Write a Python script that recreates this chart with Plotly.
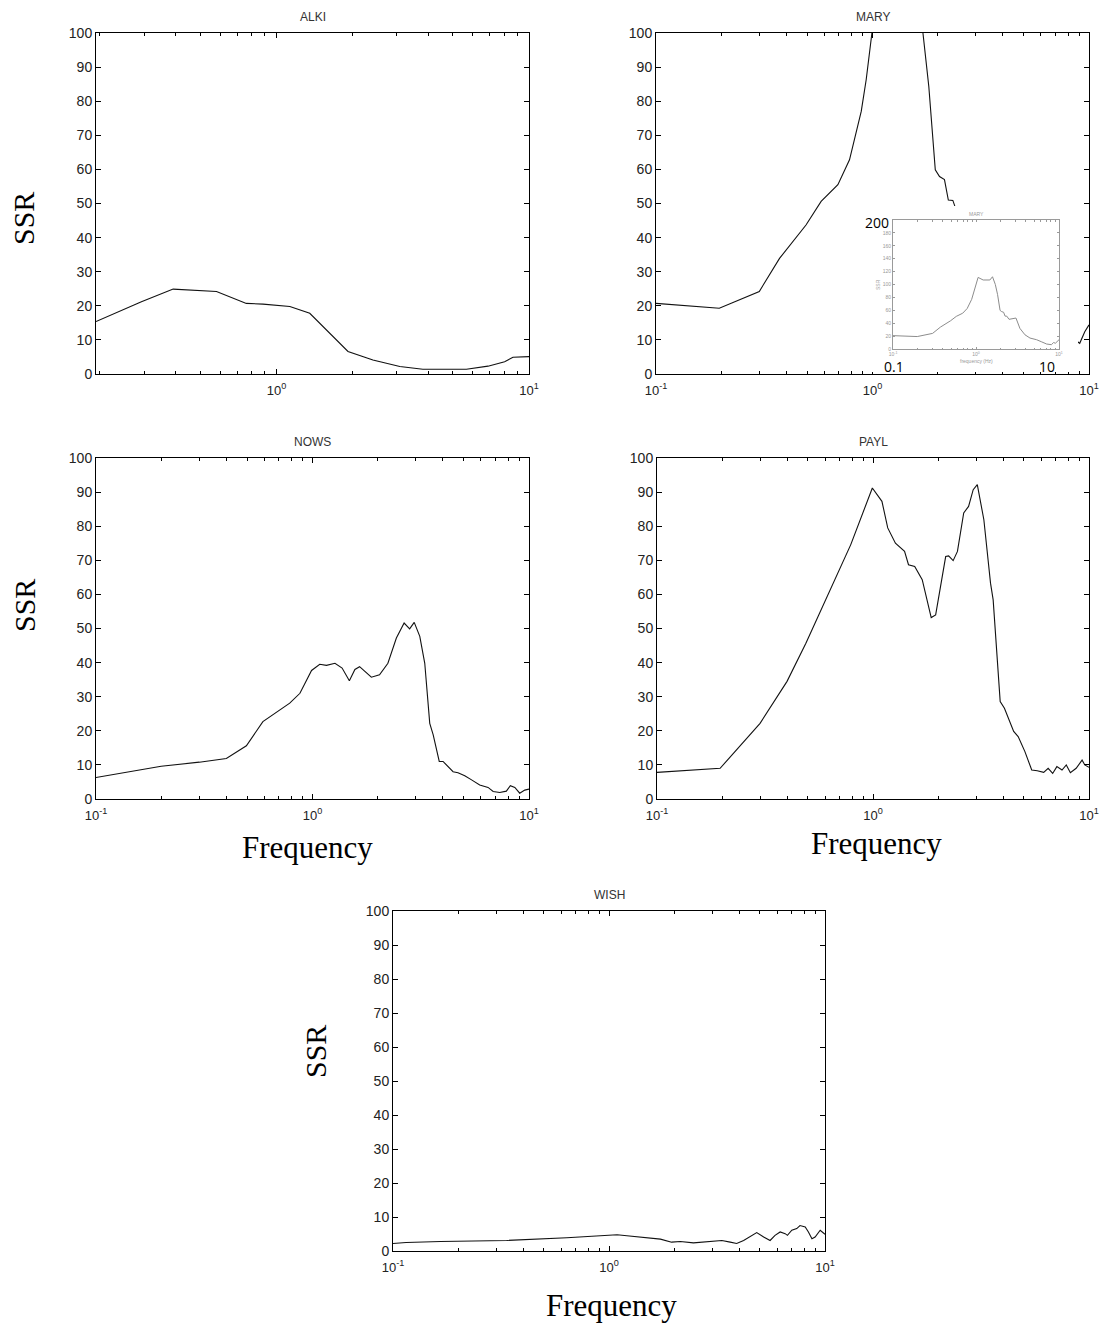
import math
import plotly.graph_objects as go

W, H = 1102, 1325

# ---------------- data ----------------
alki_f = [0.193, 0.292, 0.39, 0.579, 0.76, 0.885, 1.13, 1.355, 1.92, 2.41, 3.08, 3.80, 5.65, 6.88, 8.01, 8.64, 10.0]
alki_ssr = [15.4, 21.2, 24.9, 24.2, 20.7, 20.5, 19.8, 17.8, 6.6, 4.1, 2.2, 1.4, 1.4, 2.3, 3.6, 4.9, 5.1]

mary_f = [0.1, 0.196, 0.30, 0.372, 0.493, 0.579, 0.692, 0.783, 0.887, 0.935, 0.994, 1.06, 1.22, 1.47,
          1.58, 1.71, 1.82, 1.95, 2.04, 2.15, 2.24, 2.35, 2.5, 2.75, 3.03, 3.38, 3.89, 4.47, 5.37,
          6.2, 7.1, 8.1, 8.6, 9.06, 9.56, 10.0]
mary_ssr = [20.7, 19.3, 24.2, 33.9, 43.7, 50.6, 55.5, 62.8, 77.0, 86.3, 100.0, 111.0, 107.0, 107.0,
            112.0, 100.0, 84.3, 59.9, 57.9, 57.0, 51.0, 50.9, 46.0, 47.0, 48.0, 32.0, 22.0, 17.0, 14.4,
            11.0, 7.7, 6.7, 10.0, 9.0, 12.4, 14.4]

nows_f = [0.1, 0.2, 0.3, 0.4, 0.495, 0.59, 0.785, 0.875, 0.99, 1.08, 1.16, 1.27, 1.37, 1.48, 1.57,
          1.65, 1.87, 2.04, 2.23, 2.44, 2.65, 2.81, 2.95, 3.13, 3.30, 3.48, 3.61, 3.85, 4.01, 4.15,
          4.46, 4.7, 5.05, 5.43, 5.92, 6.47, 6.83, 7.33, 7.86, 8.2, 8.6, 9.06, 9.56, 10.0]
nows_ssr = [6.3, 9.6, 10.8, 11.9, 15.6, 22.7, 28.1, 31.0, 37.7, 39.5, 39.2, 39.8, 38.4, 34.7, 38.0,
            38.8, 35.7, 36.4, 39.8, 47.2, 51.6, 49.9, 51.8, 47.7, 39.8, 22.2, 18.8, 11.0, 11.0, 10.0,
            8.0, 7.7, 6.8, 5.6, 4.1, 3.4, 2.2, 1.9, 2.3, 3.9, 3.4, 1.7, 2.6, 2.9]

payl_f = [0.1, 0.196, 0.30, 0.40, 0.489, 0.615, 0.789, 0.993, 1.10, 1.17, 1.27, 1.40, 1.46, 1.56,
          1.69, 1.86, 1.95, 2.17, 2.24, 2.35, 2.46, 2.63, 2.77, 2.91, 3.04, 3.26, 3.50, 3.60, 3.88,
          4.06, 4.48, 4.70, 5.05, 5.43, 5.76, 6.17, 6.47, 6.79, 7.1, 7.5, 7.85, 8.2, 8.72, 9.29,
          9.56, 10.0]
payl_ssr = [7.8, 9.0, 22.2, 34.5, 45.7, 59.4, 74.6, 91.2, 87.3, 79.5, 75.0, 72.6, 68.7, 68.2,
            64.3, 53.2, 54.0, 71.1, 71.3, 69.9, 72.6, 83.9, 85.8, 90.7, 92.2, 81.9, 63.3, 58.4, 28.6,
            26.6, 19.8, 18.3, 13.9, 8.5, 8.3, 7.8, 9.0, 7.5, 9.5, 8.5, 10.0, 7.7, 9.0, 11.4,
            10.0, 9.3]

wish_f = [0.1, 0.115, 0.166, 0.336, 0.638, 0.944, 1.09, 1.21, 1.44, 1.73, 1.95, 2.14, 2.46, 2.94,
          3.33, 3.64, 3.90, 4.2, 4.5, 4.83, 5.2, 5.57, 5.87, 6.2, 6.54, 6.7, 7.02, 7.4, 7.66, 8.1,
          8.38, 8.7, 9.0, 9.5, 10.0]
wish_ssr = [2.2, 2.5, 2.8, 3.1, 3.9, 4.4, 4.8, 4.5, 4.1, 3.5, 2.6, 2.8, 2.4, 2.8,
            3.1, 2.6, 2.2, 3.1, 4.3, 5.4, 4.1, 3.1, 4.6, 5.6, 5.1, 4.6, 6.1, 6.6, 7.5, 7.1,
            5.6, 3.6, 4.1, 6.1, 4.9]

station_names = ["ALKI", "MARY", "NOWS", "PAYL", "WISH"]
y_ticks = [0, 10, 20, 30, 40, 50, 60, 70, 80, 90, 100]
inset_y_ticks = [0, 20, 40, 60, 80, 100, 120, 140, 160, 180, 200]
inset_y_text = ["0", "20", "40", "60", "80", "100", "120", "140", "160", "180", ""]
major_x = [0.1, 1, 10]
major_x_text = ["10<sup>-1</sup>", "10<sup>0</sup>", "10<sup>1</sup>"]
minor_x = [0.2, 0.3, 0.4, 0.5, 0.6, 0.7, 0.8, 0.9, 2, 3, 4, 5, 6, 7, 8, 9]
y_label = "SSR"
x_label = "Frequency"

# ---------------- layout helpers ----------------
def dx(a, b):
    return [a / W, b / W]

def dy(top, bottom):
    return [1 - bottom / H, 1 - top / H]

def px(x):
    return x / W

def py(y):
    return 1 - y / H

panel_boxes = [(96, 529, 33, 374), (656, 1089, 33, 374), (96, 529, 458, 799),
               (657, 1089, 458, 799), (393, 825, 911, 1251)]
xmins = [0.193, 0.1, 0.1, 0.1, 0.1]
series = [(alki_f, alki_ssr), (mary_f, mary_ssr), (nows_f, nows_ssr), (payl_f, payl_ssr), (wish_f, wish_ssr)]

ytick_font = dict(family="Liberation Sans, Arial, sans-serif", size=14, color="#222")
xtick_font = dict(family="Liberation Sans, Arial, sans-serif", size=13, color="#222")
fig = go.Figure()
layout = dict(width=W, height=H, margin=dict(l=0, r=0, t=0, b=0, autoexpand=False),
              paper_bgcolor="white", plot_bgcolor="white", showlegend=False,
              template="none")
annotations = []

for i, (name, box, xmin, (f, s)) in enumerate(zip(station_names, panel_boxes, xmins, series), start=1):
    xa = "x" if i == 1 else f"x{i}"
    ya = "y" if i == 1 else f"y{i}"
    fig.add_trace(go.Scatter(x=f, y=s, mode="lines", xaxis=xa, yaxis=ya,
                             line=dict(color="#111", width=1.1), hoverinfo="skip"))
    mv = [v for v in major_x if v >= xmin - 1e-9]
    mt = [t for v, t in zip(major_x, major_x_text) if v >= xmin - 1e-9]
    layout["xaxis" if i == 1 else f"xaxis{i}"] = dict(
        domain=dx(box[0], box[1]), anchor=ya, type="log", automargin=False,
        range=[math.log10(xmin), 1], tickmode="array", tickvals=mv, ticktext=mt,
        ticks="inside", ticklen=5, tickcolor="black", showline=True, linecolor="black",
        linewidth=1, mirror="allticks", showgrid=False, zeroline=False, tickfont=xtick_font,
        ticklabelstandoff=4,
        minor=dict(tickmode="array", tickvals=minor_x, ticks="inside", ticklen=3,
                   tickcolor="black", showgrid=False))
    layout["yaxis" if i == 1 else f"yaxis{i}"] = dict(
        domain=dy(box[2], box[3]), anchor=xa, range=[0, 100], tickmode="array", automargin=False,
        tickvals=y_ticks, ticks="inside", ticklen=5, tickcolor="black", showline=True,
        linecolor="black", linewidth=1, mirror="allticks", showgrid=False, zeroline=False,
        tickfont=ytick_font)
    annotations.append(dict(text=name, x=px((box[0] + box[1]) / 2), y=py(box[2] - 16),
                            xref="paper", yref="paper", showarrow=False, xanchor="center",
                            yanchor="middle",
                            font=dict(family="Liberation Sans, Arial", size=12, color="#333")))

# white cover (pasted inset picture background) over MARY
fig.add_trace(go.Scatter(x=[], y=[], xaxis="x6", yaxis="y6", hoverinfo="skip"))
layout["xaxis6"] = dict(domain=dx(868, 1078), anchor="y6", visible=False, range=[0, 1], automargin=False)
layout["yaxis6"] = dict(domain=dy(206, 372), anchor="x6", visible=False, range=[0, 1], automargin=False)

# inset: the full MARY curve
gray = "#9a9a9a"
small = dict(family="Liberation Sans, Arial", size=5, color="#999")
fig.add_trace(go.Scatter(x=mary_f, y=mary_ssr, mode="lines", xaxis="x7", yaxis="y7",
                         line=dict(color="#8c8c8c", width=1), hoverinfo="skip"))
layout["xaxis7"] = dict(domain=dx(893, 1059), anchor="y7", type="log", range=[-1, 1],
                        automargin=False,
                        tickmode="array", tickvals=major_x, ticktext=major_x_text,
                        ticks="inside", ticklen=2, tickcolor=gray, showline=True, linecolor=gray,
                        mirror="allticks", showgrid=False, zeroline=False, tickfont=small,
                        minor=dict(tickmode="array", tickvals=minor_x, ticks="inside", ticklen=1.5,
                                   tickcolor=gray, showgrid=False))
layout["yaxis7"] = dict(domain=dy(220, 349), anchor="x7", range=[0, 200], tickmode="array",
                        automargin=False,
                        tickvals=inset_y_ticks, ticktext=inset_y_text, ticks="inside", ticklen=2,
                        tickcolor=gray, showline=True, linecolor=gray, mirror="allticks",
                        showgrid=False, zeroline=False, tickfont=small)
big = dict(family="Open Sans, sans-serif", size=14, color="black")
annotations += [
    dict(text="MARY", x=px(976), y=py(214), xref="paper", yref="paper", showarrow=False,
         font=small, xanchor="center", yanchor="middle"),
    dict(text="SSR", x=px(878), y=py(285), xref="paper", yref="paper", showarrow=False,
         font=small, textangle=-90, xanchor="center", yanchor="middle"),
    dict(text="frequency (Hz)", x=px(976), y=py(361), xref="paper", yref="paper", showarrow=False,
         font=small, xanchor="center", yanchor="middle"),
    dict(text="200", x=px(877), y=py(222), xref="paper", yref="paper", showarrow=False,
         font=big, xanchor="center", yanchor="middle"),
    dict(text="0.1", x=px(894), y=py(366), xref="paper", yref="paper", showarrow=False,
         font=big, xanchor="center", yanchor="middle"),
    dict(text="10", x=px(1047), y=py(366), xref="paper", yref="paper", showarrow=False,
         font=big, xanchor="center", yanchor="middle"),
]

# big serif axis labels
serif_y = dict(family="Liberation Serif, Times New Roman, serif", size=30, color="black")
serif_x = dict(family="Liberation Serif, Times New Roman, serif", size=31, color="black")
for (xx, yy) in [(24, 219), (24, 606), (315, 1052)]:
    annotations.append(dict(text=y_label, x=px(xx), y=py(yy), xref="paper", yref="paper",
                            showarrow=False, textangle=-90, font=serif_y,
                            xanchor="center", yanchor="middle"))
for (xx, yy) in [(307, 847), (876, 843), (611, 1305)]:
    annotations.append(dict(text=x_label, x=px(xx), y=py(yy), xref="paper", yref="paper",
                            showarrow=False, font=serif_x, xanchor="center", yanchor="middle"))

layout["annotations"] = annotations
fig.update_layout(**layout)
fig.write_html("out.html")
